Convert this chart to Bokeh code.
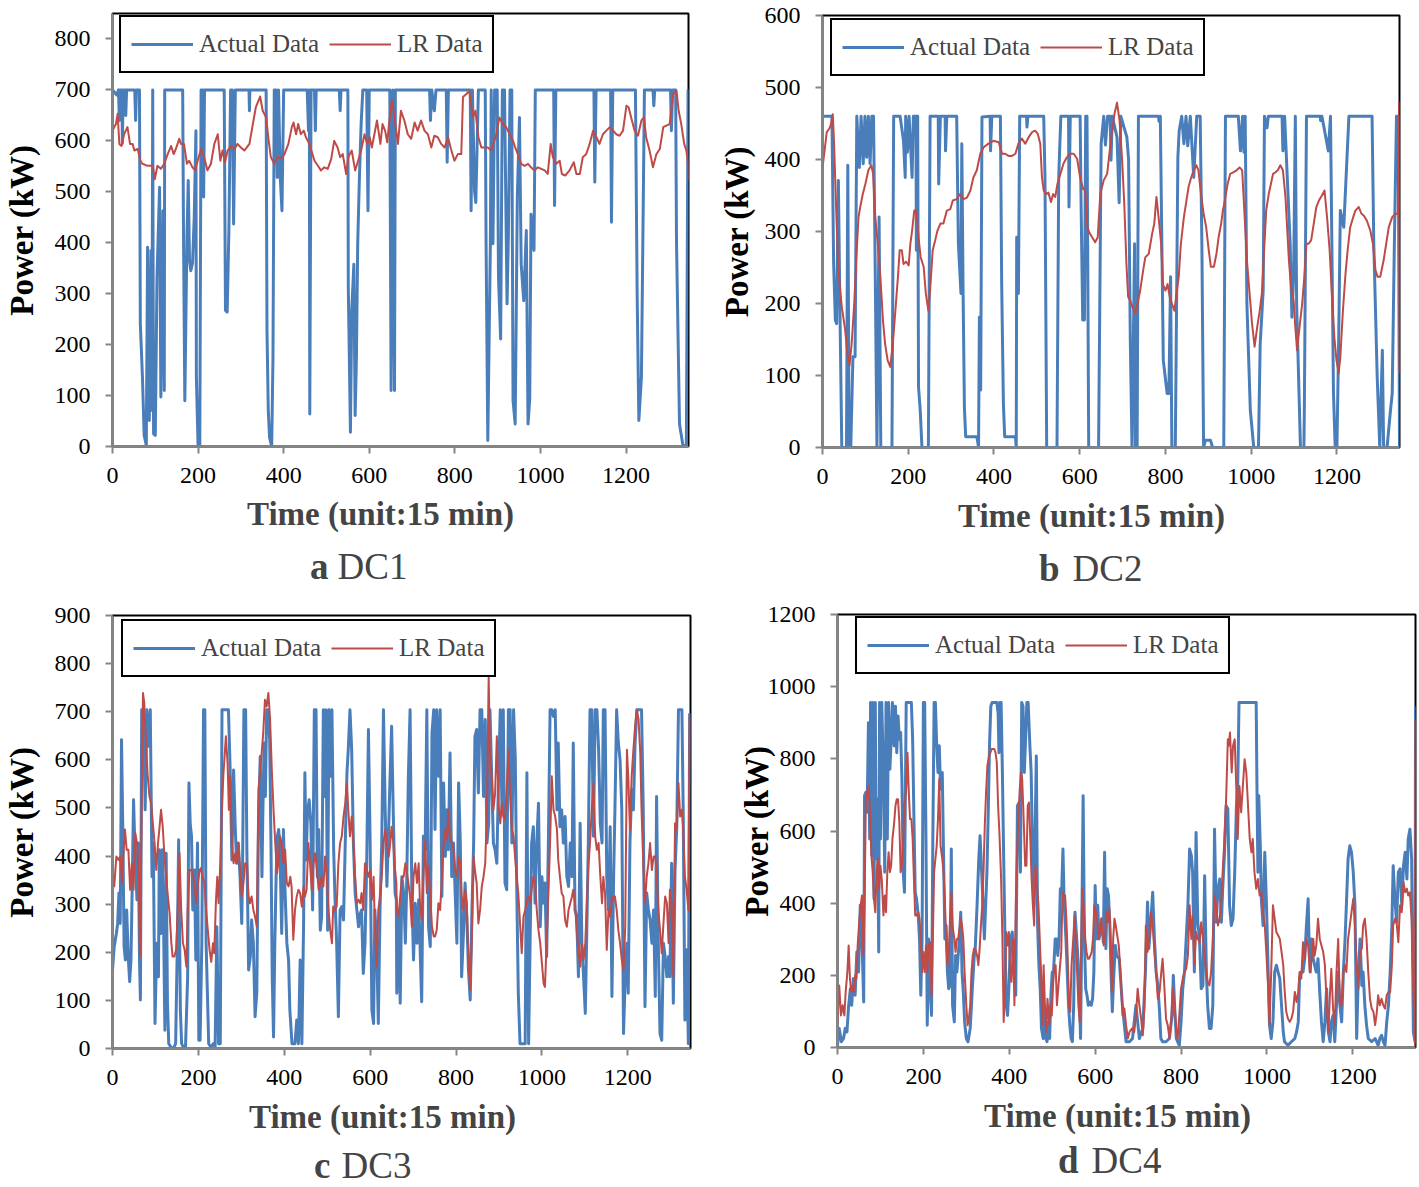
from bokeh.plotting import figure
from bokeh.models import Range1d, FixedTicker, Label, Legend, LegendItem
from bokeh.layouts import row, column
from bokeh.embed import file_html
from bokeh.resources import INLINE

# ---------------- data (time index in 15-min units, power in kW) ----------------
x_ticks = [0, 200, 400, 600, 800, 1000, 1200]

dc1_actual = [(0,700),(10,690),(14,700),(16,640),(18,700),(22,700),(23,595),(25,700),(30,700),(31,650),(33,700),(52,700),(54,640),(56,700),(63,700),
(65,241),(70,136),(74,22),(79,2),(82,391),(86,51),(90,385),(92,71),(94,700),(95,300),(96,25),(100,22),(104,332),(110,509),(113,97),(118,463),(121,110),(122,700),
(164,700),(166,411),(169,90),(174,411),(177,522),(180,365),(183,345),(187,360),(191,450),(195,620),(196,136),(200,0),(204,0),(207,700),
(211,700),(213,490),(215,700),(261,700),(264,267),(268,264),(272,424),(276,700),(280,700),(283,437),(287,700),
(319,700),(320,659),(321,700),(359,700),(361,228),(364,71),(367,18),(372,0),(375,175),(378,700),
(382,700),(385,528),(388,700),(392,528),(396,463),(400,700),
(455,700),(458,620),(460,700),(461,64),(464,700),(472,700),(474,620),(476,700),
(530,700),(532,659),(534,700),(550,700),(551,313),(556,28),(559,267),(564,358),(567,61),(570,175),(573,398),(577,528),(581,633),(585,700),
(594,700),(597,463),(600,700),(648,700),(651,110),(655,700),(659,110),(661,700),
(741,700),(743,640),(746,700),(752,659),(756,700),(780,700),(782,558),(785,700),
(836,700),(838,463),(841,700),(846,502),(849,479),(855,700),
(871,700),(873,398),(877,12),(883,398),(885,700),(889,398),(893,700),(899,700),(902,332),(907,211),(911,700),(916,700),(922,280),(925,411),(929,700),(933,700),(936,90),(941,44),(946,490),(951,646),(955,358),(961,286),(967,424),(971,44),(975,94),(978,456),(985,385),(988,700),
(1031,700),(1033,473),(1036,700),(1125,700),(1127,519),(1130,700),(1164,700),(1166,440),(1169,700),
(1222,700),(1226,300),(1230,51),(1236,136),(1243,700),(1263,700),(1265,669),(1267,700),(1304,700),(1306,620),(1309,700),(1316,700),(1318,400),(1325,44),(1333,2),(1341,2),(1345,700),(1346,700)]

dc1_lr = [(0,620),(8,633),(12,653),(16,594),(21,590),(27,613),(35,627),(41,594),(47,594),(51,581),(59,584),(65,561),(70,555),(82,551),(94,551),(99,525),(105,551),(113,545),(121,555),(129,574),(137,590),(143,574),(148,584),(156,604),(160,594),(167,594),(174,555),(179,561),(187,548),(193,542),(199,561),(207,584),(215,565),(222,542),(230,555),(238,594),(246,613),(252,561),(257,581),(263,558),(269,581),(277,590),(285,584),(292,594),(300,587),(308,581),(320,594),(328,633),(335,666),(345,687),(351,659),(359,646),(365,600),(370,568),(378,555),(386,568),(394,565),(402,574),(411,594),(419,627),(423,636),(429,613),(434,633),(440,613),(447,620),(452,607),(460,594),(472,561),(480,551),(487,542),(495,548),(503,545),(511,564),(518,600),(526,587),(532,568),(538,574),(546,535),(551,568),(559,581),(567,542),(573,558),(581,581),(589,613),(595,594),(601,607),(606,587),(612,613),(618,640),(626,594),(631,633),(637,620),(642,597),(647,640),(653,679),(659,646),(667,594),(674,659),(682,640),(690,613),(698,604),(706,636),(713,620),(721,640),(729,620),(737,613),(745,587),(752,610),(760,607),(768,594),(776,587),(784,607),(791,584),(799,561),(807,574),(815,574),(819,686),(827,692),(834,698),(842,646),(848,659),(855,607),(862,587),(869,587),(877,587),(885,581),(897,613),(904,646),(912,633),(920,627),(928,613),(936,600),(941,587),(947,574),(955,555),(963,551),(971,555),(978,548),(986,542),(994,548),(1002,545),(1010,542),(1017,535),(1024,594),(1029,568),(1037,555),(1045,561),(1050,535),(1058,532),(1068,542),(1078,558),(1084,535),(1092,535),(1099,568),(1107,574),(1115,594),(1123,620),(1131,607),(1138,594),(1146,613),(1154,620),(1162,627),(1170,620),(1177,613),(1185,610),(1193,620),(1201,669),(1206,666),(1212,646),(1220,620),(1228,610),(1236,640),(1242,646),(1247,607),(1255,581),(1263,548),(1271,574),(1279,584),(1287,627),(1294,630),(1302,633),(1310,692),(1318,698),(1323,659),(1329,633),(1336,594),(1341,581),(1345,555),(1346,522)]

dc2_actual = [(0,460),(22,460),(26,255),(30,177),(33,172),(37,371),(41,177),(45,0),(56,0),(59,392),(62,0),(66,0),(71,126),(76,126),(80,460),(86,389),(90,460),(95,394),(99,460),(103,403),(107,460),(111,394),(115,460),(119,460),(123,246),(127,0),(132,320),(136,0),(162,0),(166,460),(181,460),(189,426),(193,375),(194,460),(198,410),(202,460),(209,375),(212,460),(218,460),(219,274),(220,460),(222,460),(224,84),(228,52),(232,0),(247,0),(251,460),(270,460),(271,366),(275,460),(286,460),(287,412),(290,460),(313,460),(317,283),(323,214),(325,422),(328,214),(331,56),(334,15),(360,15),(364,1),(366,181),(369,80),(372,459),(391,460),(392,412),(395,460),(415,460),(418,227),(422,61),(425,15),(450,15),(452,0),(453,292),(457,214),(460,460),(476,460),(477,445),(479,460),(516,460),(519,375),(523,0),(547,0),(551,375),(556,460),(574,460),(575,334),(578,460),(601,460),(603,348),(607,177),(611,177),(614,460),(617,460),(621,0),(644,0),(650,422),(656,460),(660,420),(665,460),(671,460),(673,399),(676,460),(687,431),(692,340),(696,460),(710,431),(714,400),(718,150),(722,0),(728,283),(730,0),(734,0),(737,460),(784,460),(785,453),(788,460),(795,121),(804,75),(808,75),(812,237),(815,0),(823,0),(829,403),(832,440),(838,460),(843,422),(848,460),(852,419),(858,460),(866,375),(873,460),(881,460),(885,283),(889,0),(893,10),(905,10),(910,0),(936,0),(940,460),(970,460),(975,412),(980,460),(983,410),(986,460),(990,200),(998,52),(1006,0),(1017,0),(1021,144),(1028,218),(1031,460),(1037,444),(1040,460),(1072,460),(1074,412),(1078,460),(1091,283),(1095,181),(1099,237),(1103,460),(1106,200),(1115,0),(1123,0),(1124,52),(1129,460),(1161,460),(1162,454),(1165,460),(1180,412),(1185,460),(1192,75),(1196,0),(1200,0),(1204,144),(1208,329),(1216,306),(1228,460),(1282,460),(1286,283),(1294,98),(1300,0),(1306,135),(1309,0),(1317,0),(1325,52),(1329,75),(1334,283),(1339,460),(1343,460),(1346,0)]

dc2_lr = [(0,389),(4,408),(10,438),(16,443),(20,449),(24,463),(27,422),(32,329),(37,246),(45,195),(53,163),(58,130),(63,114),(68,144),(74,200),(79,264),(84,320),(88,334),(94,352),(100,366),(107,385),(114,392),(118,380),(123,320),(129,283),(135,237),(141,177),(146,144),(152,121),(158,112),(164,144),(170,190),(176,237),(180,274),(185,274),(189,255),(195,258),(201,253),(205,283),(209,301),(214,329),(219,329),(224,292),(229,264),(236,251),(241,214),(247,190),(251,218),(257,274),(263,288),(268,301),(275,311),(282,311),(290,329),(298,331),(304,343),(313,345),(321,352),(329,345),(337,347),(345,357),(352,375),(360,385),(368,408),(376,417),(387,422),(399,426),(411,424),(419,408),(426,408),(434,405),(442,405),(450,408),(457,422),(465,429),(473,422),(481,431),(489,438),(496,440),(502,436),(508,422),(512,375),(516,357),(522,352),(527,354),(533,341),(538,352),(543,348),(548,366),(555,380),(562,394),(570,403),(578,408),(586,408),(594,401),(601,375),(608,359),(613,357),(618,306),(622,299),(629,292),(636,285),(642,292),(648,352),(656,371),(664,380),(670,412),(675,436),(681,463),(687,479),(693,454),(699,399),(704,338),(709,255),(713,209),(718,204),(723,195),(730,186),(735,200),(741,218),(748,246),(753,264),(761,269),(765,283),(769,297),(774,311),(779,348),(784,320),(790,283),(794,227),(800,218),(805,227),(810,209),(815,200),(821,190),(826,214),(831,237),(836,283),(843,320),(849,343),(854,362),(860,375),(866,385),(872,392),(877,385),(883,352),(889,325),(895,306),(901,274),(906,251),(913,251),(919,269),(924,292),(930,311),(934,329),(940,348),(945,366),(951,380),(958,382),(966,385),(973,389),(979,385),(984,329),(990,260),(997,209),(1002,172),(1008,140),(1014,167),(1020,190),(1025,214),(1031,283),(1035,329),(1041,352),(1046,366),(1051,380),(1056,382),(1062,385),(1068,392),(1074,385),(1080,348),(1088,260),(1093,223),(1099,204),(1103,167),(1107,135),(1112,163),(1119,200),(1124,237),(1129,283),(1134,283),(1140,288),(1146,311),(1152,334),(1158,343),(1165,350),(1171,357),(1177,320),(1183,274),(1189,204),(1194,153),(1199,121),(1204,103),(1208,126),(1214,190),(1220,241),(1225,274),(1231,306),(1238,320),(1243,329),(1251,334),(1257,325),(1263,322),(1270,315),(1278,301),(1284,283),(1290,246),(1295,237),(1301,237),(1309,260),(1315,283),(1321,306),(1329,320),(1337,325),(1342,324),(1345,479),(1346,103)]

dc3_actual = [(0,163),(4,212),(9,239),(12,260),(15,323),(18,260),(21,642),(24,455),(27,212),(30,184),(33,288),(37,184),(40,139),(43,184),(45,288),(49,517),(53,392),(57,309),(60,427),(63,177),(65,101),(68,704),(72,698),(76,496),(80,704),(84,628),(88,704),(92,357),(95,427),(99,52),(103,219),(107,149),(109,413),(113,239),(116,413),(119,253),(122,38),(125,406),(128,94),(131,10),(136,3),(142,0),(147,10),(151,219),(154,434),(158,80),(161,10),(165,3),(170,3),(175,149),(178,552),(181,468),(184,441),(187,288),(191,371),(194,184),(198,427),(201,17),(204,17),(208,219),(212,704),(215,704),(218,219),(221,115),(224,10),(229,3),(235,10),(239,3),(243,253),(247,10),(251,10),(255,704),(270,704),(274,579),(278,392),(282,579),(286,455),(289,385),(293,427),(297,357),(301,260),(303,385),(306,704),(310,704),(313,406),(317,163),(321,191),(324,267),(328,219),(332,66),(336,115),(340,475),(344,607),(348,357),(350,482),(353,635),(356,524),(359,704),(362,704),(366,642),(369,427),(372,149),(375,24),(378,219),(381,357),(384,441),(387,455),(390,413),(394,239),(398,455),(402,323),(406,219),(410,184),(413,80),(418,10),(422,10),(425,10),(429,59),(433,10),(437,184),(441,10),(445,260),(448,573),(451,392),(454,489),(458,517),(462,468),(466,288),(470,704),(474,704),(477,357),(480,455),(484,246),(487,274),(491,704),(494,524),(497,704),(501,246),(504,704),(507,566),(511,704),(515,413),(518,316),(522,219),(526,66),(530,288),(534,295),(538,267),(542,427),(546,573),(549,621),(553,704),(557,621),(561,427),(565,323),(569,288),(573,253),(577,281),(580,288),(584,156),(588,219),(592,385),(596,663),(600,427),(604,80),(608,52),(611,288),(615,219),(619,52),(623,288),(627,427),(631,704),(635,496),(639,337),(643,455),(646,552),(650,670),(654,482),(658,323),(661,309),
(662,115),(666,288),(670,94),(674,357),(678,323),(682,219),(685,337),(689,566),(693,704),(697,323),(701,184),(705,302),(709,219),(713,309),(716,219),(720,97),(724,441),(728,413),(732,704),(736,253),(740,212),(744,656),(748,704),(751,455),(755,704),(759,566),(763,704),(767,316),(771,552),(775,399),(779,496),(782,413),(786,614),(790,357),(794,427),(798,323),(802,219),(806,552),(810,427),(813,149),(817,233),(821,344),(825,274),(829,163),(833,101),(837,288),(841,427),(844,649),(848,663),(852,531),(856,704),(860,704),(864,524),(868,684),(872,427),(876,468),(879,704),(883,566),(887,427),(891,413),(895,385),(899,566),(903,704),(907,496),(910,704),(914,344),(918,330),(922,704),(926,704),(930,427),(934,704),(938,600),(941,357),(945,115),(949,10),(953,10),(957,10),(961,10),(965,573),(969,10),(973,253),(976,427),(980,461),(984,302),(988,427),(992,510),(996,253),(1000,357),(1004,302),(1007,344),(1011,191),(1015,427),(1019,704),(1023,704),(1027,690),(1031,704),(1035,496),(1038,635),(1042,461),(1046,496),(1050,427),(1054,482),(1058,357),(1062,337),(1066,427),(1070,357),(1073,635),(1077,288),(1081,274),(1085,149),(1089,468),(1093,219),(1097,149),(1101,73),(1104,219),(1108,427),(1112,704),(1116,704),(1120,441),(1124,704),(1128,704),(1132,621),(1136,468),(1140,427),(1143,704),(1147,704),(1151,357),(1155,288),(1159,461),(1163,108),(1167,357),(1170,496),(1174,704),(1178,635),(1182,600),(1186,496),(1190,31),(1194,149),(1198,219),(1201,115),(1205,427),(1209,538),(1213,496),(1217,635),(1221,704),(1232,704),(1236,496),(1240,87),(1244,323),(1248,288),(1252,267),(1256,219),(1260,288),(1264,108),(1267,524),(1271,219),(1275,31),(1279,17),(1283,219),(1287,191),(1291,149),(1295,191),(1298,149),(1302,385),(1306,94),(1310,371),(1314,461),(1318,704),(1326,704),(1329,496),(1333,59),(1337,205),(1341,10),(1344,697)]

dc3_lr = [(0,364),(4,337),(9,399),(14,392),(18,399),(22,344),(26,413),(29,455),(33,413),(37,413),(41,330),(45,385),(49,330),(53,448),(57,427),(61,357),(64,191),(68,496),(71,739),(74,718),(78,635),(82,566),(86,524),(90,510),(94,468),(98,427),(102,371),(106,427),(109,455),(113,496),(117,461),(121,399),(125,357),(129,316),(133,281),(137,219),(140,191),(144,191),(148,205),(152,288),(156,406),(160,288),(164,219),(168,205),(172,170),(175,288),(179,371),(183,371),(187,364),(191,337),(195,302),(199,344),(203,371),(206,375),(210,357),(214,344),(218,288),(222,246),(226,205),(230,180),(234,219),(237,198),(241,309),(244,357),(247,302),(251,385),(255,496),(258,566),(262,621),(264,649),(268,593),(271,496),(274,566),(278,427),(282,385),(286,406),(289,385),(293,427),(297,371),(301,316),(305,344),(309,385),(313,385),(317,316),(320,302),(324,316),(328,288),(332,274),(336,253),(340,538),(344,579),(348,621),(351,656),(355,725),(359,711),(363,739),(367,684),(371,579),(375,496),(379,427),(383,364),(387,392),(390,441),(394,427),(398,385),(402,413),(406,344),(410,337),(414,357),(417,337),(421,226),(425,288),(429,316),(433,330),(437,323),(441,295),(445,337),(448,316),(452,330),(456,427),(460,385),(464,330),(468,385),(472,406),(476,371),(480,330),(484,344),(487,357),(491,337),(495,399),(499,357),(503,288),(507,246),(511,219),(514,295),(518,288),(522,295),(526,385),(530,427),(534,441),(538,482),(542,510),(546,552),(549,496),(553,441),(557,482),(561,427),(565,357),(569,302),(573,309),(577,302),(580,323),(584,288),(588,385),(592,371),(596,357),(600,371),(604,309),(608,357),(611,253),(615,170),(619,288),(623,316),(627,357),(631,427),(635,455),(639,427),(643,399),(646,420),(650,461),(654,427),(658,371),(661,344),
(662,288),(666,274),(670,316),(674,357),(678,357),(682,385),(685,371),(689,344),(693,316),(697,253),(701,357),(705,385),(709,344),(713,385),(716,302),(720,267),(724,357),(728,434),(732,323),(736,378),(740,316),(744,253),(748,233),(751,233),(755,246),(759,302),(763,288),(767,357),(771,427),(775,455),(779,434),(782,496),(786,441),(790,427),(794,413),(798,371),(802,357),(806,399),(810,385),(813,316),(817,288),(821,330),(825,302),(829,177),(833,121),(837,233),(841,399),(844,371),(848,344),(852,260),(856,288),(860,337),(864,357),(868,385),(872,496),(876,774),(879,614),(883,566),(887,496),(891,531),(895,649),(899,510),(903,468),(907,510),(910,482),(914,475),(918,538),(922,621),(926,524),(930,455),(934,441),(938,392),(941,357),(945,323),(949,260),(953,198),(957,274),(961,288),(965,309),(969,316),(973,302),(976,330),(980,357),(984,344),(988,288),(992,246),(996,219),(1000,177),(1004,135),(1007,128),(1011,219),(1015,323),(1019,427),(1023,566),(1027,496),(1031,482),(1035,455),(1038,392),(1042,357),(1046,323),(1050,316),(1054,267),(1058,253),(1062,288),(1066,302),(1070,316),(1073,330),(1077,302),(1081,246),(1085,205),(1089,170),(1093,219),(1097,184),(1101,219),(1104,288),(1108,378),(1112,427),(1116,496),(1120,552),(1124,441),(1128,413),(1132,427),(1136,357),(1140,302),(1143,357),(1147,323),(1151,205),(1155,288),(1159,274),(1163,316),(1167,309),(1170,316),(1174,288),(1178,246),(1182,219),(1186,184),(1190,163),(1194,253),(1198,621),(1201,566),(1205,455),(1209,566),(1213,621),(1217,670),(1221,704),(1225,684),(1229,614),(1232,496),(1236,385),(1240,302),(1244,357),(1248,385),(1252,427),(1256,371),(1260,399),(1264,399),(1267,371),(1271,288),(1275,246),(1279,198),(1283,260),(1287,316),(1291,302),(1295,219),(1298,330),(1302,302),(1306,149),(1310,468),(1314,455),(1318,552),(1322,482),(1326,496),(1329,455),(1333,357),(1337,330),(1341,288),(1344,690)]

dc4_actual = [(0,6),(4,53),(9,16),(14,25),(18,53),(22,43),(26,117),(30,163),(33,117),(37,191),(41,145),(45,265),(49,209),(53,394),(57,301),(61,126),(63,698),(66,707),(69,652),(72,900),(75,578),(77,956),(80,532),(82,956),(85,412),(88,956),(90,523),(93,688),(96,265),(98,956),(100,578),(103,956),(107,762),(110,486),(113,956),(116,578),(119,956),(122,771),(125,854),(128,956),(132,836),(135,946),(138,817),(141,919),(144,854),(147,873),(150,744),(153,486),(156,430),(160,956),(172,956),(175,854),(178,633),(181,430),(184,412),(188,366),(191,301),(194,145),(197,301),(200,956),(203,956),(206,578),(209,62),(212,301),(216,154),(219,89),(222,578),(225,956),(228,956),(231,836),(234,762),(237,836),(240,716),(244,762),(247,532),(250,301),(253,338),(256,209),(259,163),(262,172),(265,550),(268,117),(272,71),(275,255),(278,209),(281,255),(284,301),(287,375),(290,209),(293,154),(296,71),(300,25),(304,16),(309,53),(314,163),(318,246),(321,281),(325,394),(329,523),(332,587),(335,504),(339,394),(342,301),(345,394),(348,486),(351,650),(354,836),(357,946),(360,956),(371,956),(374,928),(376,817),(378,956),(381,956),(384,762),(387,523),(390,301),(393,117),(396,89),(399,163),(403,301),(407,320),(411,209),(415,145),(419,670),(423,679),(426,486),(429,956),(432,946),(435,762),(438,854),(441,956),(444,956),(448,836),(451,762),(454,559),(457,394),(460,578),(463,808),(466,338),(469,228),(472,163),(475,53),(479,25),(482,117),(485,25),(488,16),(491,71),(494,25),(497,145),(500,209),(503,209),(507,301),(510,301),(513,255),(516,301),(519,440),(522,430),(525,550),(528,394),(532,301),(535,209),(538,117),(541,62),(544,25),(547,16),(550,117),(553,375),(556,320),(560,246),(563,154),(566,25),(569,338),(572,698),(575,301),(578,163),(581,145),(584,117),(588,126),(591,117),(594,135),(597,209),(600,449),(603,301),(606,394),(609,301),(612,320),(616,357),(619,292),(622,541),(625,274),(628,440),(631,421),(634,347),(637,209),(640,99),(643,191),(647,283),(650,255),
(656,246),(664,108),(672,16),(680,16),(687,25),(695,117),(703,25),(711,53),(717,209),(722,403),(725,274),(729,338),(734,430),(738,301),(742,209),(746,172),(750,99),(753,25),(757,16),(765,16),(773,25),(779,89),(782,200),(785,117),(789,25),(792,16),(796,6),(800,71),(804,163),(808,209),(812,301),(816,394),(820,550),(824,532),(827,486),(831,209),(835,596),(839,347),(843,301),(847,163),(851,172),(855,476),(859,209),(862,117),(866,53),(870,53),(874,117),(878,605),(882,347),(886,440),(890,467),(894,347),(897,440),(901,532),(905,670),(909,661),(913,394),(917,338),(921,357),(925,486),(929,670),(932,725),(935,956),(975,956),(977,698),(979,486),(981,698),(985,541),(987,412),(991,338),(995,541),(999,394),(1003,209),(1006,62),(1010,25),(1014,71),(1018,209),(1022,228),(1026,209),(1030,191),(1034,117),(1038,43),(1041,16),(1049,6),(1057,16),(1065,25),(1069,43),(1073,71),(1076,191),(1080,209),(1084,209),(1088,246),(1092,338),(1096,412),(1098,301),(1101,209),(1104,301),(1108,246),(1111,228),(1115,209),(1119,246),(1123,154),(1127,71),(1131,16),(1135,71),(1139,163),(1143,43),(1147,16),(1150,71),(1154,89),(1158,16),(1162,117),(1166,209),(1170,117),(1174,71),(1178,209),(1182,301),(1185,394),(1189,523),(1193,559),(1197,541),(1201,486),(1205,394),(1209,25),(1213,209),(1217,301),(1221,172),(1224,209),(1228,117),(1232,62),(1236,25),(1244,16),(1252,25),(1259,6),(1263,25),(1267,34),(1271,16),(1275,6),(1279,71),(1283,117),(1287,209),(1291,338),(1294,504),(1298,412),(1302,347),(1306,486),(1310,495),(1314,394),(1318,504),(1322,541),(1326,467),(1329,578),(1333,605),(1337,523),(1341,43),(1345,16),(1346,946)]

dc4_lr = [(0,71),(4,172),(8,89),(12,117),(16,89),(19,154),(23,209),(26,283),(29,191),(32,154),(35,172),(38,154),(41,200),(44,191),(47,283),(51,357),(54,394),(57,421),(60,255),(63,394),(66,688),(69,707),(72,725),(75,670),(79,532),(82,486),(85,412),(88,375),(91,486),(94,523),(97,440),(100,504),(103,467),(107,366),(110,421),(113,375),(116,486),(119,541),(122,486),(125,504),(128,578),(132,624),(135,670),(138,688),(141,688),(144,624),(147,486),(150,504),(153,578),(156,670),(160,716),(163,817),(166,707),(169,633),(172,633),(175,578),(178,467),(181,366),(184,366),(188,375),(191,357),(194,301),(197,209),(200,265),(203,209),(206,283),(209,209),(212,283),(216,292),(219,145),(222,301),(225,486),(228,523),(231,559),(234,633),(237,744),(240,559),(244,523),(247,486),(250,412),(253,301),(256,228),(259,265),(262,357),(265,430),(268,338),(272,301),(275,265),(278,301),(281,301),(284,329),(287,357),(290,338),(293,301),(296,209),(300,117),(303,62),(306,80),(309,117),(312,209),(315,255),(318,274),(321,274),(325,255),(328,228),(331,274),(334,338),(337,394),(340,486),(343,615),(346,707),(349,781),(353,808),(356,817),(359,827),(365,827),(368,817),(371,790),(374,670),(377,596),(381,467),(384,301),(387,71),(390,163),(393,320),(396,283),(399,320),(402,209),(405,182),(409,301),(412,117),(415,394),(418,532),(421,633),(424,707),(427,762),(430,744),(433,652),(437,504),(440,504),(443,670),(446,679),(449,578),(452,467),(455,394),(458,338),(461,504),(464,458),(468,394),(471,301),(474,209),(477,62),(480,228),(483,117),(486,43),(489,135),(493,62),(496,117),(499,89),(502,172),(505,228),(508,228),(511,117),(514,163),(517,209),(521,265),(524,430),(527,421),(530,421),(533,357),(536,255),(539,117),(542,99),(545,228),(549,301),(552,366),(555,301),(558,209),(561,117),(564,71),(567,246),(570,440),(574,375),(577,301),(580,265),(583,246),(586,246),(589,255),(592,265),(595,301),(598,394),(602,375),(605,347),(608,301),(611,320),(614,357),(617,320),(620,283),(623,301),(626,375),(630,347),(633,384),(636,301),(639,154),(642,301),(645,357),(648,338),
(655,283),(659,209),(664,89),(668,108),(672,62),(676,25),(680,43),(686,53),(691,43),(695,89),(699,163),(703,117),(707,80),(711,34),(715,117),(718,338),(722,265),(726,301),(730,375),(734,338),(738,265),(742,209),(746,135),(750,154),(754,209),(757,246),(761,172),(765,80),(769,62),(773,25),(777,71),(781,163),(785,117),(789,43),(792,25),(796,89),(800,163),(804,191),(808,209),(812,218),(816,255),(820,394),(824,301),(827,366),(831,228),(835,320),(839,301),(843,292),(847,347),(851,301),(855,255),(859,209),(862,182),(866,172),(870,209),(874,301),(878,421),(882,394),(886,338),(890,357),(894,412),(897,486),(901,578),(905,688),(909,854),(911,836),(914,873),(918,762),(921,836),(925,854),(929,707),(932,578),(936,725),(940,652),(944,725),(948,799),(952,762),(956,670),(960,578),(964,541),(967,578),(971,486),(975,440),(979,467),(983,421),(987,430),(991,375),(995,338),(999,255),(1003,163),(1006,62),(1010,209),(1014,394),(1018,357),(1022,320),(1026,311),(1030,301),(1034,265),(1038,228),(1041,163),(1045,99),(1049,80),(1053,71),(1057,80),(1061,99),(1065,154),(1069,126),(1073,154),(1076,209),(1080,191),(1084,292),(1088,246),(1092,301),(1096,283),(1100,209),(1104,246),(1108,301),(1111,255),(1115,283),(1119,357),(1123,301),(1127,283),(1131,265),(1135,228),(1139,126),(1143,43),(1147,154),(1150,218),(1154,108),(1158,62),(1162,209),(1166,301),(1170,117),(1174,117),(1178,209),(1182,228),(1185,209),(1189,301),(1193,338),(1197,375),(1201,412),(1205,338),(1209,228),(1213,163),(1217,265),(1221,274),(1224,338),(1228,357),(1232,301),(1236,209),(1240,135),(1244,108),(1248,99),(1252,62),(1256,99),(1259,145),(1263,117),(1267,135),(1271,117),(1275,108),(1279,145),(1283,154),(1287,154),(1291,228),(1294,338),(1298,357),(1302,347),(1306,292),(1310,394),(1314,375),(1318,458),(1322,430),(1326,440),(1329,421),(1333,430),(1337,357),(1341,163),(1345,6),(1346,910)]

dc1_yticks = [0, 100, 200, 300, 400, 500, 600, 700, 800]
dc2_yticks = [0, 100, 200, 300, 400, 500, 600]
dc3_yticks = [0, 100, 200, 300, 400, 500, 600, 700, 800, 900]
dc4_yticks = [0, 200, 400, 600, 800, 1000, 1200]

series_names = ["Actual Data", "LR Data"]
x_title = "Time (unit:15 min)"
y_title = "Power (kW)"

# ---------------- styling ----------------
FONT = "Liberation Serif"
BLUE = "#4A7EBB"
RED = "#BE4B48"
GRAY = "#868686"


def make_main(actual, lr, ymax, yticks, frame, borders, legend_xy, ylab_standoff):
    fw, fh = frame
    bl, br, bt, bb = borders
    p = figure(frame_width=fw, frame_height=fh,
               min_border_left=bl, min_border_right=br,
               min_border_top=bt, min_border_bottom=bb,
               x_range=Range1d(0, 1346), y_range=Range1d(0, ymax),
               output_backend="svg", toolbar_location=None, tools="")
    p.title.visible = False
    p.xgrid.visible = False
    p.ygrid.visible = False
    p.outline_line_color = "black"
    p.outline_line_width = 2
    p.background_fill_color = "white"
    p.border_fill_color = "white"

    p.xaxis.ticker = FixedTicker(ticks=x_ticks)
    p.yaxis.ticker = FixedTicker(ticks=yticks)
    for ax in (p.xaxis[0], p.yaxis[0]):
        ax.axis_line_color = GRAY
        ax.axis_line_width = 2
        ax.major_tick_line_color = GRAY
        ax.major_tick_line_width = 2
        ax.major_tick_out = 7
        ax.major_tick_in = 0
        ax.minor_tick_line_color = None
        ax.major_label_text_font = FONT
        ax.major_label_text_font_size = "24px"
        ax.major_label_text_color = "black"
    p.xaxis[0].major_label_standoff = 14
    p.yaxis[0].major_label_standoff = 15

    yax = p.yaxis[0]
    yax.axis_label = y_title
    yax.axis_label_text_font = FONT
    yax.axis_label_text_font_size = "33px"
    yax.axis_label_text_font_style = "bold"
    yax.axis_label_text_color = "black"
    yax.axis_label_standoff = ylab_standoff

    xa = [t for t, v in actual]
    ya = [v for t, v in actual]
    xl = [t for t, v in lr]
    yl = [v for t, v in lr]
    r1 = p.line(xa, ya, line_color=BLUE, line_width=3, line_join="round")
    r2 = p.line(xl, yl, line_color=RED, line_width=2, line_join="round")

    legend = Legend(items=[LegendItem(label=series_names[0], renderers=[r1]),
                           LegendItem(label=series_names[1], renderers=[r2])],
                    location=legend_xy, orientation="horizontal",
                    label_text_font=FONT, label_text_font_size="25px",
                    glyph_width=62, glyph_height=34, label_standoff=6,
                    spacing=10, padding=10, margin=0,
                    border_line_color="black", border_line_width=2,
                    border_line_alpha=1.0,
                    background_fill_color="white", background_fill_alpha=1.0)
    p.add_layout(legend)
    return p


def make_caption(frame_w, borders_lr, height, letter, name, xt, cap):
    # caption strip whose frame lines up with the panel's plot frame;
    # label positions are measured from that frame's left/bottom edge
    c = figure(frame_width=frame_w, frame_height=height,
               x_range=Range1d(0, 1), y_range=Range1d(0, 1),
               x_axis_type=None, y_axis_type=None,
               min_border_left=borders_lr[0], min_border_right=borders_lr[1],
               min_border_top=0, min_border_bottom=0,
               output_backend="svg", toolbar_location=None, tools="")
    c.title.visible = False
    c.grid.visible = False
    c.outline_line_color = None
    c.background_fill_color = "white"
    c.border_fill_color = "white"
    c.add_layout(Label(x=xt[0], y=xt[1], x_units="screen", y_units="screen",
                       text=x_title, text_font=FONT, text_font_size="33px",
                       text_font_style="bold", text_align="center",
                       text_baseline="middle"))
    c.add_layout(Label(x=cap[0], y=cap[2], x_units="screen", y_units="screen",
                       text=letter, text_font=FONT, text_font_size="37px",
                       text_font_style="bold", text_align="right",
                       text_baseline="middle"))
    c.add_layout(Label(x=cap[1], y=cap[2], x_units="screen", y_units="screen",
                       text=name, text_font=FONT, text_font_size="37px",
                       text_align="left", text_baseline="middle"))
    return c


pa = make_main(dc1_actual, dc1_lr, 850, dc1_yticks, (576, 433), (112, 12, 13, 48), (7, 373), 12)
pb = make_main(dc2_actual, dc2_lr, 600, dc2_yticks, (577, 432), (122, 20, 15, 48), (8, 371), 7)
pc = make_main(dc3_actual, dc3_lr, 900, dc3_yticks, (578, 433), (112, 10, 15, 48), (9, 371), 12)
pd = make_main(dc4_actual, dc4_lr, 1200, dc4_yticks, (578, 433), (137, 4, 14, 48), (18, 373), -10)

ca = make_caption(576, (112, 12), 106, "a", "DC1", (268, 87), (216, 225, 34))
cb = make_caption(577, (122, 20), 105, "b", "DC2", (269, 85), (237, 250, 32))
cc = make_caption(578, (112, 10), 91, "c", "DC3", (270, 71), (218, 229, 22))
cd = make_caption(578, (137, 4), 92, "d", "DC4", (280, 72), (241, 254, 27))

layout = column(row(column(pa, ca), column(pb, cb)),
                row(column(pc, cc), column(pd, cd)))

with open("out.html", "w") as f:
    f.write(file_html(layout, INLINE))
